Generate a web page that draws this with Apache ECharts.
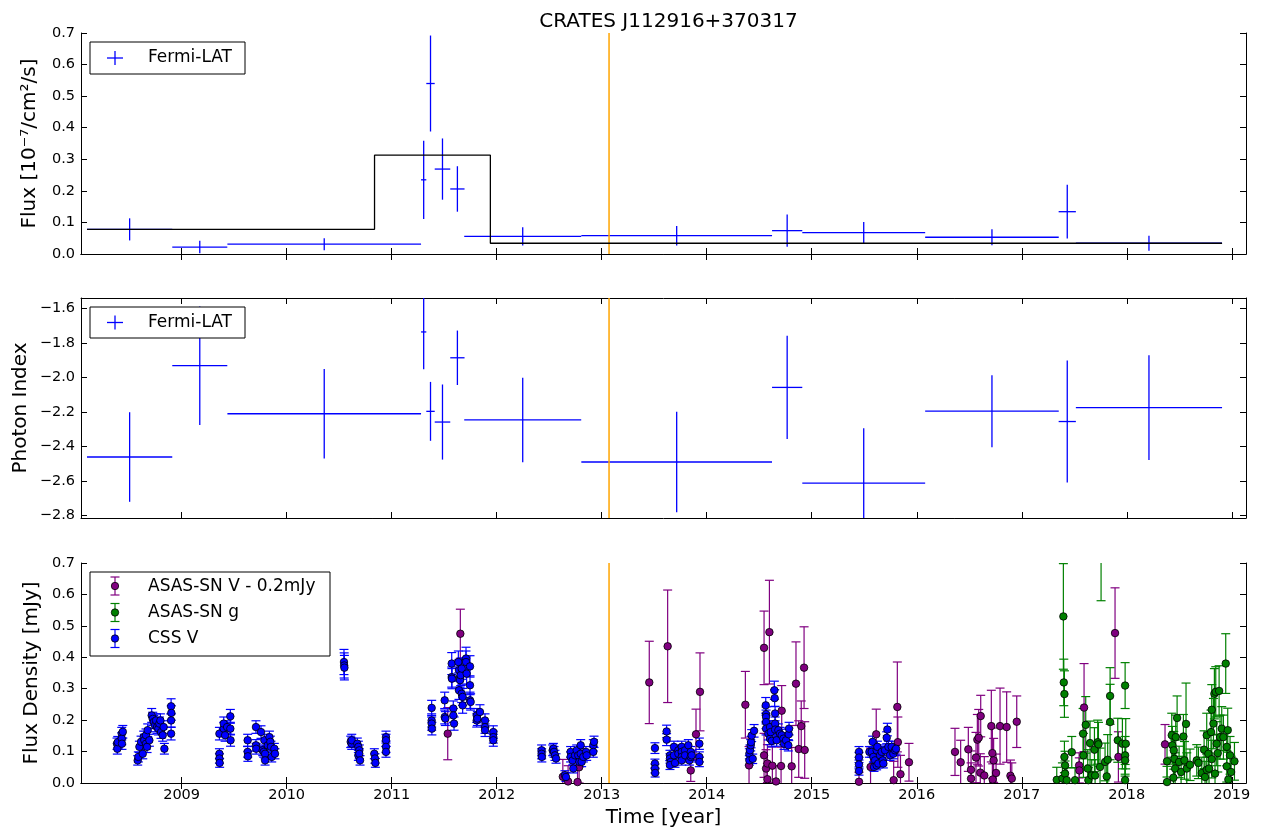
<!DOCTYPE html>
<html>
<head>
<meta charset="utf-8">
<script src="https://cdn.jsdelivr.net/npm/echarts@6/dist/echarts.min.js"></script>
<style>
  html, body { margin: 0; padding: 0; background: #fff; }
  #chart { width: 1261px; height: 835px; }
</style>
</head>
<body>
<div id="chart"></div>
<script>
// ---- Fermi-LAT light curve (bin centre, half width, flux, flux error, photon index, index error)
const fermiTime     = [2008.505, 2009.173, 2010.358, 2011.305, 2011.370, 2011.484, 2011.626, 2012.248, 2013.714, 2014.766, 2015.495, 2016.716, 2017.433, 2018.211];
const fermiTimeErr  = [0.406, 0.262, 0.922, 0.025, 0.040, 0.074, 0.068, 0.557, 0.908, 0.144, 0.585, 0.636, 0.082, 0.696];
const fermiFlux     = [0.078, 0.022, 0.031, 0.235, 0.540, 0.269, 0.206, 0.056, 0.058, 0.074, 0.068, 0.053, 0.134, 0.034];
const fermiFluxErr  = [0.035, 0.020, 0.019, 0.124, 0.152, 0.097, 0.072, 0.029, 0.031, 0.051, 0.033, 0.025, 0.085, 0.024];
const fermiIndex    = [-2.461, -1.931, -2.210, -1.735, -2.196, -2.258, -1.885, -2.246, -2.490, -2.057, -2.612, -2.195, -2.255, -2.174];
const fermiIndexErr = [0.260, 0.344, 0.260, 0.217, 0.171, 0.218, 0.158, 0.245, 0.292, 0.300, 0.318, 0.209, 0.354, 0.304];

// ---- Bayesian-block flux levels (edges in years, flux per block)
const blockEdges = [2008.099, 2010.837, 2011.940, 2018.907];
const blockFlux  = [0.078, 0.313, 0.034];

// ---- vertical marker
const markerYear = 2013.07;

// ---- axis ticks
const yearTicks  = [2009, 2010, 2011, 2012, 2013, 2014, 2015, 2016, 2017, 2018, 2019];
const indexTicks = [-2.8, -2.6, -2.4, -2.2, -2.0, -1.8, -1.6];
const fluxTicks  = [0, 0.1, 0.2, 0.3, 0.4, 0.5, 0.6, 0.7];

// ---- optical light curves: [year, flux density (mJy), error]
const asasV = [
  [2011.534,0.157,0.083],[2011.654,0.475,0.078],
  [2012.630,0.020,0.055],[2012.680,0.005,0.050],[2012.770,0.003,0.045],[2012.785,0.050,0.050],
  [2013.453,0.320,0.131],[2013.628,0.435,0.179],
  [2013.848,0.040,0.035],[2013.898,0.155,0.080],[2013.936,0.290,0.124],
  [2014.368,0.249,0.106],[2014.403,0.056,0.060],[2014.546,0.430,0.117],[2014.597,0.480,0.165],
  [2014.546,0.088,0.070],[2014.565,0.046,0.060],[2014.578,0.012,0.050],[2014.578,0.062,0.060],
  [2014.625,0.055,0.060],[2014.660,0.005,0.050],[2014.714,0.230,0.080],[2014.708,0.054,0.060],
  [2014.809,0.053,0.060],[2014.850,0.316,0.133],[2014.876,0.108,0.090],[2014.900,0.181,0.080],
  [2014.927,0.367,0.130],[2014.933,0.105,0.090],
  [2015.450,0.004,0.030],[2015.560,0.051,0.060],[2015.614,0.155,0.080],[2015.780,0.009,0.060],
  [2015.815,0.242,0.143],[2015.820,0.130,0.080],[2015.845,0.028,0.060],[2015.926,0.066,0.060],
  [2016.364,0.099,0.075],[2016.418,0.066,0.070],[2016.491,0.107,0.070],[2016.517,0.042,0.060],
  [2016.517,0.014,0.050],[2016.564,0.081,0.080],[2016.577,0.138,0.080],[2016.590,0.144,0.090],
  [2016.609,0.213,0.066],[2016.605,0.033,0.060],[2016.643,0.024,0.060],[2016.710,0.181,0.114],
  [2016.720,0.095,0.080],[2016.732,0.072,0.070],[2016.755,0.032,0.060],[2016.723,0.011,0.050],
  [2016.793,0.181,0.121],[2016.856,0.178,0.112],[2016.892,0.023,0.050],[2016.905,0.014,0.050],
  [2016.952,0.195,0.082],
  [2017.546,0.056,0.040],[2017.548,0.040,0.040],[2017.593,0.240,0.140],[2017.888,0.477,0.144],
  [2017.920,0.083,0.080],[2018.364,0.123,0.063]
];

const asasG = [
  [2017.333,0.010,0.040],[2017.387,0.014,0.050],[2017.396,0.530,0.168],[2017.400,0.320,0.074],
  [2017.406,0.283,0.074],[2017.406,0.083,0.050],[2017.412,0.056,0.045],[2017.412,0.030,0.040],
  [2017.428,0.009,0.040],[2017.476,0.098,0.050],[2017.507,0.009,0.040],
  [2017.584,0.157,0.080],[2017.587,0.088,0.070],[2017.609,0.185,0.090],[2017.628,0.046,0.060],
  [2017.634,0.009,0.040],[2017.650,0.127,0.070],[2017.666,0.024,0.050],[2017.692,0.106,0.070],
  [2017.698,0.024,0.050],[2017.723,0.130,0.070],[2017.730,0.123,0.070],[2017.745,0.051,0.060],
  [2017.755,0.760,0.180],[2017.793,0.067,0.060],[2017.809,0.021,0.050],[2017.818,0.074,0.080],
  [2017.841,0.277,0.090],[2017.841,0.194,0.120],[2017.914,0.136,0.070],[2017.958,0.125,0.080],
  [2017.984,0.310,0.073],[2017.984,0.088,0.060],[2017.984,0.072,0.050],[2017.990,0.125,0.080],
  [2017.984,0.009,0.050],
  [2018.383,0.069,0.050],[2018.383,0.003,0.050],[2018.428,0.152,0.070],[2018.434,0.120,0.060],
  [2018.444,0.017,0.050],[2018.447,0.104,0.060],[2018.453,0.077,0.060],[2018.460,0.046,0.050],
  [2018.466,0.146,0.070],[2018.479,0.207,0.070],[2018.498,0.067,0.050],[2018.517,0.035,0.050],
  [2018.539,0.148,0.070],[2018.549,0.072,0.060],[2018.564,0.188,0.130],[2018.571,0.046,0.050],
  [2018.602,0.058,0.050],[2018.666,0.072,0.050],[2018.682,0.064,0.050],[2018.714,0.032,0.050],
  [2018.736,0.106,0.060],[2018.745,0.019,0.050],[2018.761,0.152,0.070],[2018.761,0.042,0.050],
  [2018.777,0.093,0.060],[2018.783,0.046,0.050],[2018.802,0.162,0.070],[2018.809,0.233,0.080],
  [2018.809,0.076,0.060],[2018.825,0.189,0.080],[2018.834,0.284,0.080],[2018.840,0.030,0.050],
  [2018.847,0.290,0.080],[2018.856,0.125,0.070],[2018.866,0.095,0.060],[2018.879,0.293,0.080],
  [2018.888,0.146,0.070],[2018.904,0.173,0.070],[2018.920,0.146,0.070],[2018.942,0.380,0.095],
  [2018.952,0.115,0.060],[2018.952,0.053,0.050],[2018.961,0.168,0.070],[2018.967,0.011,0.050],
  [2018.983,0.088,0.060],[2018.993,0.035,0.050],[2019.025,0.069,0.060]
];

const cssV = [
  [2008.385,0.125,0.018],[2008.388,0.109,0.017],[2008.392,0.130,0.018],[2008.430,0.157,0.020],
  [2008.430,0.141,0.019],[2008.432,0.125,0.018],[2008.440,0.163,0.020],
  [2008.582,0.072,0.015],[2008.588,0.083,0.016],[2008.598,0.115,0.018],[2008.614,0.131,0.018],
  [2008.630,0.093,0.016],[2008.639,0.146,0.019],[2008.645,0.136,0.019],[2008.661,0.152,0.020],
  [2008.661,0.125,0.018],[2008.671,0.115,0.018],[2008.677,0.168,0.020],[2008.693,0.136,0.019],
  [2008.715,0.215,0.022],[2008.725,0.204,0.021],[2008.735,0.194,0.021],[2008.747,0.183,0.020],
  [2008.757,0.199,0.021],[2008.766,0.178,0.020],[2008.779,0.173,0.020],[2008.788,0.189,0.021],
  [2008.798,0.199,0.021],[2008.804,0.162,0.020],[2008.820,0.152,0.019],[2008.829,0.178,0.020],
  [2008.836,0.109,0.017],
  [2008.900,0.244,0.024],[2008.902,0.223,0.023],[2008.900,0.199,0.021],[2008.900,0.157,0.020],
  [2009.360,0.093,0.016],[2009.360,0.078,0.015],[2009.362,0.064,0.014],[2009.360,0.157,0.020],
  [2009.401,0.173,0.020],[2009.401,0.189,0.021],[2009.414,0.152,0.019],[2009.433,0.178,0.020],
  [2009.464,0.212,0.022],[2009.464,0.173,0.020],[2009.466,0.136,0.019],
  [2009.629,0.136,0.019],[2009.629,0.099,0.017],[2009.631,0.085,0.016],[2009.708,0.178,0.020],
  [2009.708,0.120,0.018],[2009.710,0.109,0.017],[2009.756,0.162,0.020],[2009.772,0.104,0.017],
  [2009.782,0.099,0.017],[2009.788,0.136,0.019],[2009.795,0.093,0.016],[2009.795,0.072,0.015],
  [2009.820,0.120,0.018],[2009.836,0.146,0.019],[2009.845,0.131,0.018],[2009.851,0.115,0.018],
  [2009.858,0.083,0.016],[2009.883,0.109,0.017],[2009.889,0.093,0.016],
  [2010.546,0.385,0.040],[2010.548,0.374,0.040],[2010.550,0.367,0.039],
  [2010.610,0.131,0.018],[2010.620,0.125,0.018],[2010.620,0.136,0.019],[2010.673,0.125,0.018],
  [2010.683,0.115,0.018],[2010.683,0.088,0.016],[2010.692,0.104,0.017],[2010.692,0.093,0.016],
  [2010.699,0.072,0.015],
  [2010.835,0.093,0.016],[2010.841,0.078,0.015],[2010.845,0.064,0.014],
  [2010.946,0.146,0.019],[2010.946,0.136,0.019],[2010.946,0.115,0.018],[2010.946,0.099,0.017],
  [2011.381,0.239,0.024],[2011.381,0.199,0.021],[2011.381,0.189,0.021],[2011.383,0.173,0.020],
  [2011.505,0.263,0.026],[2011.505,0.210,0.022],[2011.511,0.205,0.022],
  [2011.572,0.380,0.035],[2011.572,0.337,0.032],[2011.574,0.332,0.032],[2011.587,0.237,0.024],
  [2011.587,0.215,0.022],[2011.594,0.189,0.021],
  [2011.635,0.385,0.035],[2011.641,0.359,0.034],[2011.651,0.337,0.032],[2011.651,0.327,0.031],
  [2011.657,0.343,0.033],[2011.667,0.364,0.034],[2011.641,0.295,0.029],[2011.667,0.284,0.028],
  [2011.676,0.274,0.027],[2011.676,0.247,0.025],
  [2011.708,0.396,0.036],[2011.708,0.385,0.035],[2011.714,0.348,0.033],[2011.746,0.371,0.034],
  [2011.746,0.311,0.030],[2011.746,0.263,0.026],[2011.752,0.258,0.026],
  [2011.810,0.215,0.022],[2011.810,0.199,0.021],[2011.816,0.205,0.022],[2011.841,0.226,0.023],
  [2011.889,0.199,0.021],[2011.889,0.178,0.020],[2011.889,0.168,0.020],
  [2011.968,0.162,0.020],[2011.968,0.146,0.019],[2011.968,0.136,0.019],
  [2012.428,0.104,0.017],[2012.428,0.093,0.016],[2012.430,0.083,0.016],[2012.533,0.104,0.017],
  [2012.540,0.109,0.017],[2012.546,0.099,0.017],[2012.555,0.088,0.016],[2012.565,0.078,0.015],
  [2012.650,0.025,0.014],[2012.660,0.019,0.014],[2012.704,0.099,0.017],[2012.704,0.083,0.016],
  [2012.723,0.072,0.015],[2012.730,0.046,0.014],[2012.746,0.088,0.016],[2012.762,0.104,0.017],
  [2012.777,0.088,0.016],[2012.787,0.067,0.015],[2012.800,0.120,0.018],[2012.800,0.093,0.016],
  [2012.809,0.067,0.015],[2012.825,0.083,0.016],[2012.850,0.099,0.017],[2012.857,0.088,0.016],
  [2012.920,0.120,0.018],[2012.920,0.099,0.017],[2012.927,0.131,0.018],
  [2013.507,0.111,0.017],[2013.507,0.062,0.014],[2013.507,0.046,0.014],[2013.509,0.032,0.013],
  [2013.618,0.164,0.020],[2013.618,0.138,0.019],[2013.650,0.088,0.016],[2013.650,0.078,0.015],
  [2013.657,0.067,0.015],[2013.650,0.057,0.014],[2013.688,0.115,0.018],[2013.688,0.088,0.016],
  [2013.698,0.064,0.014],[2013.730,0.104,0.017],[2013.730,0.093,0.016],
  [2013.762,0.115,0.018],[2013.762,0.099,0.017],[2013.762,0.083,0.016],[2013.762,0.072,0.015],
  [2013.794,0.104,0.017],[2013.794,0.088,0.016],[2013.825,0.120,0.018],[2013.835,0.072,0.015],
  [2013.848,0.099,0.017],[2013.848,0.083,0.016],[2013.857,0.088,0.016],[2013.930,0.125,0.018],
  [2013.930,0.083,0.016],[2013.930,0.067,0.015],
  [2014.406,0.093,0.016],[2014.412,0.104,0.017],[2014.419,0.120,0.018],[2014.422,0.130,0.018],
  [2014.428,0.151,0.019],[2014.451,0.166,0.020],[2014.406,0.072,0.015],[2014.438,0.077,0.015],
  [2014.562,0.247,0.025],[2014.565,0.219,0.023],[2014.565,0.210,0.022],[2014.565,0.194,0.021],
  [2014.565,0.173,0.020],[2014.587,0.157,0.020],[2014.603,0.141,0.019],[2014.603,0.178,0.020],
  [2014.609,0.162,0.020],[2014.619,0.134,0.019],[2014.644,0.295,0.029],[2014.647,0.270,0.027],
  [2014.651,0.221,0.023],[2014.651,0.189,0.021],[2014.651,0.170,0.020],[2014.666,0.136,0.019],
  [2014.682,0.168,0.020],[2014.698,0.157,0.020],[2014.714,0.152,0.019],[2014.730,0.141,0.019],
  [2014.736,0.125,0.018],[2014.755,0.136,0.019],[2014.777,0.120,0.018],[2014.781,0.155,0.020],
  [2014.784,0.173,0.020],
  [2015.450,0.099,0.017],[2015.450,0.081,0.016],[2015.450,0.059,0.014],[2015.450,0.038,0.013],
  [2015.549,0.099,0.017],[2015.571,0.099,0.017],[2015.580,0.131,0.018],[2015.587,0.083,0.016],
  [2015.593,0.051,0.014],[2015.603,0.072,0.015],[2015.618,0.104,0.017],[2015.618,0.056,0.014],
  [2015.625,0.115,0.018],[2015.634,0.062,0.014],[2015.650,0.088,0.016],[2015.666,0.099,0.017],
  [2015.676,0.072,0.015],[2015.682,0.062,0.014],[2015.698,0.104,0.017],[2015.714,0.144,0.019],
  [2015.720,0.170,0.020],[2015.730,0.115,0.018],[2015.745,0.088,0.016],[2015.761,0.115,0.018],
  [2015.777,0.093,0.016],[2015.793,0.104,0.017],[2015.803,0.109,0.017]
];

// ---- colours
const C_FERMI = '#0000ff';
const C_ASASV = '#800080';
const C_ASASG = '#008000';
const C_CSS   = '#0000ff';
const C_MARK  = '#ffa500';

const X_MIN = 2008.042, X_MAX = 2019.135;
const FONT = 'DejaVu Sans';
const minusFix = s => String(s).replace('-', '\u2212');

const grids = [
  { left: 81, right: 15, top: 33,  height: 221 },
  { left: 81, right: 15, top: 298, height: 220 },
  { left: 81, right: 15, top: 563, height: 220 }
];

const frameLine = { show: true, lineStyle: { color: '#000', width: 1 } };
const tickStyle = { color: '#000', width: 1 };

function xAxes(gi, showLabels) {
  return [
    {
      type: 'value', gridIndex: gi, position: 'bottom', min: X_MIN, max: X_MAX,
      axisLine: frameLine,
      axisTick: { show: true, inside: true, length: 6, lineStyle: tickStyle, customValues: yearTicks },
      axisLabel: {
        show: showLabels, customValues: yearTicks, margin: 5,
        color: '#000', fontFamily: FONT, fontSize: 14.5, formatter: v => String(v)
      },
      splitLine: { show: false }
    },
    {
      type: 'value', gridIndex: gi, position: 'top', min: X_MIN, max: X_MAX,
      axisLine: frameLine,
      axisTick: { show: true, inside: true, length: 6, lineStyle: tickStyle, customValues: yearTicks },
      axisLabel: { show: false, customValues: yearTicks },
      splitLine: { show: false }
    }
  ];
}

function yAxes(gi, min, max, ticks, fmt) {
  const base = {
    type: 'value', gridIndex: gi, min: min, max: max,
    axisLine: frameLine, splitLine: { show: false }
  };
  return [
    Object.assign({}, base, {
      position: 'left',
      axisTick: { show: true, inside: true, length: 6, lineStyle: tickStyle, customValues: ticks },
      axisLabel: {
        show: true, customValues: ticks, margin: 6, color: '#000',
        fontFamily: FONT, fontSize: 14.5, formatter: fmt
      }
    }),
    Object.assign({}, base, {
      position: 'right',
      axisTick: { show: true, inside: true, length: 6, lineStyle: tickStyle, customValues: ticks },
      axisLabel: { show: false, customValues: ticks }
    })
  ];
}

// cross-shaped markers: horizontal bar = bin width, vertical bar = 1-sigma
function crossRender(params, api) {
  const t = api.value(0), dt = api.value(1), y = api.value(2), dy = api.value(3);
  const l = api.coord([t - dt, y]), r = api.coord([t + dt, y]);
  const up = api.coord([t, y + dy]), dn = api.coord([t, y - dy]);
  const st = { stroke: C_FERMI, lineWidth: 1.3 };
  return {
    type: 'group',
    children: [
      { type: 'line', shape: { x1: l[0], y1: l[1], x2: r[0], y2: r[1] }, style: st },
      { type: 'line', shape: { x1: up[0], y1: up[1], x2: dn[0], y2: dn[1] }, style: st }
    ]
  };
}

// vertical error bar with caps
function errBarRender(color) {
  return function (params, api) {
    const t = api.value(0), y = api.value(1), e = api.value(2);
    const up = api.coord([t, y + e]), dn = api.coord([t, y - e]);
    const w = 4.5;
    const st = { stroke: color, lineWidth: 1.2 };
    return {
      type: 'group',
      children: [
        { type: 'line', shape: { x1: up[0], y1: up[1], x2: dn[0], y2: dn[1] }, style: st },
        { type: 'line', shape: { x1: up[0] - w, y1: up[1], x2: up[0] + w, y2: up[1] }, style: st },
        { type: 'line', shape: { x1: dn[0] - w, y1: dn[1], x2: dn[0] + w, y2: dn[1] }, style: st }
      ]
    };
  };
}

// full-height vertical line at a given year
function markerRender(params, api) {
  const p = api.coord([api.value(0), api.value(1)]);
  const cs = params.coordSys;
  return {
    type: 'line',
    shape: { x1: p[0], y1: cs.y, x2: p[0], y2: cs.y + cs.height },
    style: { stroke: C_MARK, lineWidth: 1.5 }
  };
}

const fluxRows  = fermiTime.map((t, i) => [t, fermiTimeErr[i], fermiFlux[i], fermiFluxErr[i]]);
const indexRows = fermiTime.map((t, i) => [t, fermiTimeErr[i], fermiIndex[i], fermiIndexErr[i]]);
const blockRows = blockEdges.map((t, i) => [t, blockFlux[Math.min(i, blockFlux.length - 1)]]);

function opticalSeries(rows, color, name) {
  return [
    {
      name: name + ' err', type: 'custom', xAxisIndex: 4, yAxisIndex: 4, clip: true,
      encode: { x: 0, y: 1 }, renderItem: errBarRender(color), data: rows, silent: true
    },
    {
      name: name, type: 'scatter', xAxisIndex: 4, yAxisIndex: 4, clip: true,
      symbol: 'circle', symbolSize: 7.5,
      itemStyle: { color: color, borderColor: '#000', borderWidth: 0.8, opacity: 1 },
      data: rows.map(r => [r[0], r[1]]), silent: true
    }
  ];
}

// legend boxes in matplotlib style
function legendBox(x, y, w, h) {
  return { type: 'rect', z: 100, shape: { x: x, y: y, width: w, height: h },
           style: { fill: '#fff', stroke: '#000', lineWidth: 1 } };
}
function legendText(x, y, text) {
  return { type: 'text', z: 101, x: x, y: y,
           style: { text: text, fill: '#000', font: '17px "DejaVu Sans"',
                    textAlign: 'left', textVerticalAlign: 'middle' } };
}
function legendCross(cx, cy) {
  return [
    { type: 'line', z: 101, shape: { x1: cx - 8, y1: cy, x2: cx + 8, y2: cy }, style: { stroke: C_FERMI, lineWidth: 1.3 } },
    { type: 'line', z: 101, shape: { x1: cx, y1: cy - 7, x2: cx, y2: cy + 7 }, style: { stroke: C_FERMI, lineWidth: 1.3 } }
  ];
}
function legendErr(cx, cy, color) {
  const st = { stroke: color, lineWidth: 1.2 };
  return [
    { type: 'line', z: 101, shape: { x1: cx, y1: cy - 9, x2: cx, y2: cy + 9 }, style: st },
    { type: 'line', z: 101, shape: { x1: cx - 4.5, y1: cy - 9, x2: cx + 4.5, y2: cy - 9 }, style: st },
    { type: 'line', z: 101, shape: { x1: cx - 4.5, y1: cy + 9, x2: cx + 4.5, y2: cy + 9 }, style: st },
    { type: 'circle', z: 102, shape: { cx: cx, cy: cy, r: 3.7 }, style: { fill: color, stroke: '#000', lineWidth: 0.8 } }
  ];
}
function rotatedLabel(x, y, text) {
  return { type: 'text', x: x, y: y, rotation: Math.PI / 2,
           style: { text: text, fill: '#000', font: '20px "DejaVu Sans"',
                    textAlign: 'center', textVerticalAlign: 'middle' } };
}

const graphics = [
  legendBox(90, 42, 155, 32), ...legendCross(115, 58), legendText(148, 58, 'Fermi-LAT'),
  legendBox(90, 307, 155, 31), ...legendCross(115, 322.5), legendText(148, 322.5, 'Fermi-LAT'),
  legendBox(90, 572, 240, 84),
  ...legendErr(115, 586, C_ASASV), legendText(148, 586.5, 'ASAS-SN V - 0.2mJy'),
  ...legendErr(115, 612.5, C_ASASG), legendText(148, 613, 'ASAS-SN g'),
  ...legendErr(115, 638.5, C_CSS), legendText(148, 639, 'CSS V'),
  rotatedLabel(30, 143.5, 'Flux [10\u207B\u2077/cm\u00B2/s]'),
  rotatedLabel(21, 408, 'Photon Index'),
  rotatedLabel(32, 673, 'Flux Density [mJy]'),
  { type: 'text', x: 663.5, y: 818,
    style: { text: 'Time [year]', fill: '#000', font: '20px "DejaVu Sans"',
             textAlign: 'center', textVerticalAlign: 'middle' } }
];

const option = {
  animation: false,
  backgroundColor: '#fff',
  title: {
    text: 'CRATES J112916+370317', left: 663.5, top: 7, textAlign: 'center',
    textStyle: { fontFamily: FONT, fontSize: 20, fontWeight: 'normal', color: '#000' }
  },
  grid: grids,
  xAxis: [...xAxes(0, false), ...xAxes(1, false), ...xAxes(2, true)],
  yAxis: [
    ...yAxes(0, 0, 0.7, fluxTicks, v => v.toFixed(1)),
    ...yAxes(1, -2.815, -1.538, indexTicks, v => minusFix(v.toFixed(1))),
    ...yAxes(2, 0, 0.7, fluxTicks, v => v.toFixed(1))
  ],
  series: [
    // top: flux
    {
      name: 'blocks', type: 'line', xAxisIndex: 0, yAxisIndex: 0, step: 'end',
      symbol: 'none', data: blockRows, lineStyle: { color: '#000', width: 1.3 }, silent: true
    },
    {
      name: 'Fermi-LAT flux', type: 'custom', xAxisIndex: 0, yAxisIndex: 0, clip: true,
      encode: { x: 0, y: 2 }, renderItem: crossRender, data: fluxRows, silent: true
    },
    {
      type: 'custom', xAxisIndex: 0, yAxisIndex: 0, renderItem: markerRender,
      data: [[markerYear, 0.3]], silent: true
    },
    // middle: photon index
    {
      name: 'Fermi-LAT index', type: 'custom', xAxisIndex: 2, yAxisIndex: 2, clip: true,
      encode: { x: 0, y: 2 }, renderItem: crossRender, data: indexRows, silent: true
    },
    {
      type: 'custom', xAxisIndex: 2, yAxisIndex: 2, renderItem: markerRender,
      data: [[markerYear, -2.0]], silent: true
    },
    // bottom: optical
    ...opticalSeries(asasV, C_ASASV, 'ASAS-SN V - 0.2mJy'),
    ...opticalSeries(asasG, C_ASASG, 'ASAS-SN g'),
    ...opticalSeries(cssV, C_CSS, 'CSS V'),
    {
      type: 'custom', xAxisIndex: 4, yAxisIndex: 4, renderItem: markerRender,
      data: [[markerYear, 0.3]], silent: true
    }
  ],
  graphic: graphics
};

const chart = echarts.init(document.getElementById('chart'), null, { renderer: 'canvas' });
chart.setOption(option);
</script>
</body>
</html>
